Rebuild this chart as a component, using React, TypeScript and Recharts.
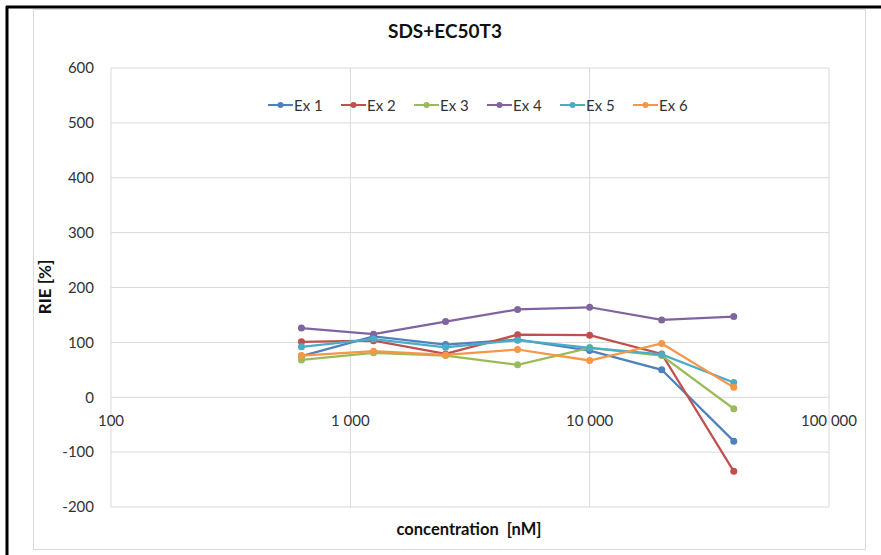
import { LineChart, Line, XAxis, YAxis, CartesianGrid, Legend } from "recharts";

// concentration [nM] for each measurement
const concentrations = [625, 1250, 2500, 5000, 10000, 20000, 40000];

// RIE [%] per experiment
const ex1 = [75, 111, 96, 105, 85, 50, -80];
const ex2 = [101, 103, 79, 114, 113, 79, -135];
const ex3 = [68, 81, 76, 59, 90, 76, -21];
const ex4 = [126, 115, 138, 160, 164, 141, 147];
const ex5 = [92, 106, 91, 104, 90, 78, 27];
const ex6 = [76, 84, 77, 87, 67, 98, 18];

const seriesNames = ["Ex 1", "Ex 2", "Ex 3", "Ex 4", "Ex 5", "Ex 6"];
const seriesColors = ["#4f81bd", "#c0504d", "#9bbb59", "#8064a2", "#4bacc6", "#f79646"];

const xTicks = [100, 1000, 10000, 100000];
const yTicks = [-200, -100, 0, 100, 200, 300, 400, 500, 600];

const Y_MIN = -200;
const Y_MAX = 600;

const W = 881;
const H = 555;
const MARGIN = { top: 68, right: 52, bottom: 18, left: 0 };
const X_AXIS_H = 30;
const PLOT_H = H - MARGIN.top - MARGIN.bottom - X_AXIS_H;
// the category labels sit on the zero line, not at the bottom edge
const ZERO_LIFT = (PLOT_H * (0 - Y_MIN)) / (Y_MAX - Y_MIN);

const FONT = "Lato, 'Open Sans', sans-serif";

const data = concentrations.map((c, i) => ({
  conc: c,
  ex1: ex1[i],
  ex2: ex2[i],
  ex3: ex3[i],
  ex4: ex4[i],
  ex5: ex5[i],
  ex6: ex6[i],
}));

const fmtThousands = (v: number) =>
  String(v).replace(/\B(?=(\d{3})+(?!\d))/g, " ");

function XTick(props: any) {
  const { x, y, payload } = props;
  return (
    <text
      x={x}
      y={y - ZERO_LIFT + 29}
      textAnchor="middle"
      fontSize={15}
      fontFamily={FONT}
      fill="#333"
    >
      {fmtThousands(payload.value)}
    </text>
  );
}

function LegendRow(props: any) {
  const items = props.payload || [];
  return (
    <div style={{ display: "flex", fontFamily: FONT, fontSize: 15, color: "#333" }}>
      {items.map((item: any) => (
        <div
          key={item.value}
          style={{ display: "flex", alignItems: "center", width: 73, height: 18 }}
        >
          <svg width={25} height={10} style={{ marginRight: 1 }}>
            <line x1={0} y1={5} x2={25} y2={5} stroke={item.color} strokeWidth={2} />
            <circle cx={12.5} cy={5} r={3} fill={item.color} />
          </svg>
          <span>{item.value}</span>
        </div>
      ))}
    </div>
  );
}

export default function App() {
  return (
    <div
      style={{
        position: "absolute",
        left: 0,
        top: 0,
        width: W,
        height: H,
        background: "#fff",
      }}
    >
      <svg
        width={W}
        height={H}
        style={{ position: "absolute", left: 0, top: 0 }}
      >
        <line x1={6} y1={7} x2={W} y2={7} stroke="#000" strokeWidth={3} />
        <line x1={7} y1={6} x2={7} y2={H} stroke="#000" strokeWidth={3} />
        <rect x={33.5} y={9.5} width={832} height={540} fill="none" stroke="#d9d9d9" />
        <text
          x={445}
          y={38}
          textAnchor="middle"
          fontSize={19}
          fontWeight="bold"
          fontFamily={FONT}
          fill="#111"
        >
          SDS+EC50T3
        </text>
        <text
          x={469}
          y={535}
          textAnchor="middle"
          fontSize={16.5}
          fontWeight="bold"
          fontFamily={FONT}
          fill="#111"
          style={{ whiteSpace: "pre" }}
        >
          {"concentration  [nM]"}
        </text>
        <text
          transform="translate(51,287) rotate(-90)"
          textAnchor="middle"
          fontSize={17}
          fontWeight="bold"
          fontFamily={FONT}
          fill="#111"
        >
          RIE [%]
        </text>
      </svg>

      <div style={{ position: "absolute", left: 0, top: 0 }}>
        <LineChart width={W} height={H} data={data} margin={MARGIN}>
          <CartesianGrid stroke="#d9d9d9" strokeWidth={1} />
          <XAxis
            dataKey="conc"
            type="number"
            scale="log"
            domain={[100, 100000]}
            ticks={xTicks}
            allowDataOverflow
            axisLine={false}
            tickLine={false}
            tickSize={0}
            tickMargin={0}
            height={X_AXIS_H}
            tick={<XTick />}
            interval={0}
          />
          <YAxis
            type="number"
            domain={[Y_MIN, Y_MAX]}
            ticks={yTicks}
            width={111}
            axisLine={false}
            tickLine={false}
            tickSize={0}
            tickMargin={17}
            interval={0}
            tick={{ fontSize: 15, fontFamily: FONT, fill: "#333" }}
          />
          <Legend
            layout="horizontal"
            verticalAlign="middle"
            align="center"
            content={<LegendRow />}
            wrapperStyle={{ top: 96, left: 268, width: "auto" }}
          />
          {["ex1", "ex2", "ex3", "ex4", "ex5", "ex6"].map((key, i) => (
            <Line
              key={key}
              type="linear"
              dataKey={key}
              name={seriesNames[i]}
              stroke={seriesColors[i]}
              strokeWidth={2.25}
              dot={{ r: 3.5, fill: seriesColors[i], stroke: seriesColors[i], strokeWidth: 0 }}
              activeDot={false}
              isAnimationActive={false}
            />
          ))}
        </LineChart>
      </div>
    </div>
  );
}
